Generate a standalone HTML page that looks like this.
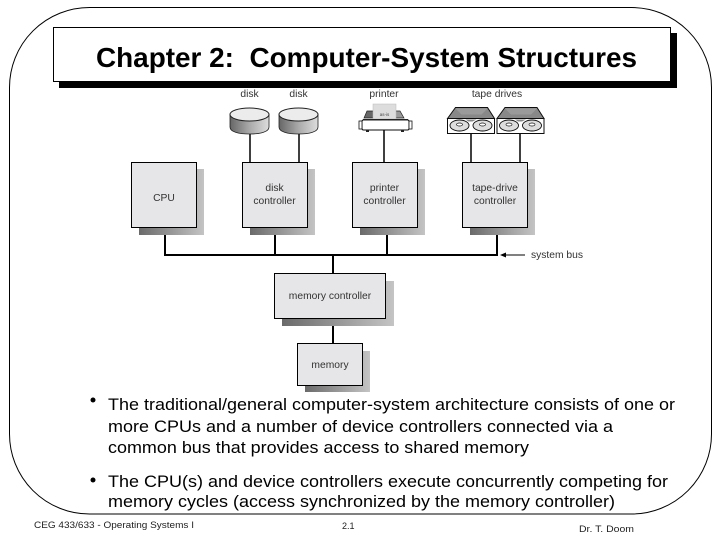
<!DOCTYPE html>
<html><head><meta charset="utf-8"><style>
html,body{margin:0;padding:0;background:#fff;width:720px;height:540px;overflow:hidden}
svg{display:block}
text{font-family:"Liberation Sans",Arial,sans-serif}
</style></head><body>
<svg width="720" height="540" viewBox="0 0 720 540" xmlns="http://www.w3.org/2000/svg">
<defs>
<filter id="b" x="-5%" y="-5%" width="110%" height="110%"><feGaussianBlur stdDeviation="0.35"/></filter>
<linearGradient id="s" x1="0" y1="0" x2="1" y2="0"><stop offset="0" stop-color="#6a6a6a"/><stop offset="1" stop-color="#c4c4c4"/></linearGradient>
<linearGradient id="d" x1="0" y1="0" x2="1" y2="0"><stop offset="0" stop-color="#666"/><stop offset=".5" stop-color="#aaa"/><stop offset="1" stop-color="#ddd"/></linearGradient>
<g id="disk"><path d="M0 6 V19 C0 24 9 26 19.500 26 C30 26 39 24 39 19 V6 Z" fill="url(#d)" stroke="#222" stroke-width=".8"/><ellipse cx="19.500" cy="6.500" rx="19.500" ry="6.500" fill="#ececec" stroke="#222" stroke-width="1"/></g>
<g id="tape"><path d="M0 11 L8 0 H40 L47 11 Z" fill="#888" stroke="#111" stroke-width="1"/><path d="M8 1 H40 L34 7 H14 Z" fill="#9a9a9a"/><rect x="0" y="11" width="47" height="15" fill="#fff" stroke="#111" stroke-width="1"/><g fill="#ddd" stroke="#111" stroke-width=".9"><ellipse cx="12" cy="18" rx="9.500" ry="5.500"/><ellipse cx="35" cy="18" rx="9.500" ry="5.500"/></g><g fill="#fff" stroke="#111" stroke-width=".7"><ellipse cx="12" cy="17" rx="3" ry="1.500"/><ellipse cx="35" cy="17" rx="3" ry="1.500"/></g><path d="M18 12 H29 L25 14 H21 Z" fill="#888"/></g>
</defs>

<!-- frame -->
<rect x="9.500" y="7.500" width="702" height="506.500" rx="80" ry="80" fill="#fff" stroke="#000" stroke-width="1"/>

<!-- title -->
<rect x="59" y="33" width="618" height="55" fill="#000"/>
<rect x="53.500" y="27.500" width="617" height="54" fill="#fff" stroke="#000" stroke-width="1"/>
<text x="96" y="67" font-size="28" font-weight="700" textLength="541" lengthAdjust="spacingAndGlyphs" xml:space="preserve" fill="#000">Chapter 2:  Computer-System Structures</text>

<!-- connectors -->
<g filter="url(#b)">
<g stroke="#000" fill="none">
<path d="M250 134V162M299 134V162M384 130V162M471 133V162M520 133V162" stroke-width="1.500"/>
<path d="M165 227V255M275 227V255M387 227V255M497 227V255M164 255H498M333 255V273M333 318V343" stroke-width="2"/>
<path d="M503 255H525" stroke-width="1"/>
</g>
<path d="M500 255 L506 252.500 V257.500 Z" fill="#000"/>

<!-- shadows and boxes -->
<g fill="url(#s)">
<rect x="139" y="169" width="65" height="66"/>
<rect x="250" y="169" width="65" height="66"/>
<rect x="360" y="169" width="65" height="66"/>
<rect x="470" y="169" width="65" height="66"/>
<rect x="282" y="281" width="112" height="45"/>
<rect x="305" y="351" width="65" height="41"/>
</g>
<g fill="#e6e6e8" stroke="#000" stroke-width="1">
<rect x="131.500" y="162.500" width="65" height="65"/>
<rect x="242.500" y="162.500" width="65" height="65"/>
<rect x="352.500" y="162.500" width="65" height="65"/>
<rect x="462.500" y="162.500" width="65" height="65"/>
<rect x="274.500" y="273.500" width="111" height="45"/>
<rect x="297.500" y="343.500" width="65" height="42"/>
</g>

<!-- disks -->
<use href="#disk" x="230" y="108"/>
<use href="#disk" x="279" y="108"/>

<!-- printer -->
<path d="M364 118 L367 111 H377 V118 Z" fill="#666" stroke="#222" stroke-width=".7"/>
<path d="M392 111 H400 L404 118 H392 Z" fill="#999" stroke="#222" stroke-width=".7"/>
<rect x="373" y="104" width="23" height="15" fill="#ddd" stroke="#bbb" stroke-width=".5"/>
<rect x="362" y="120" width="47" height="10" rx="1.500" fill="#fff" stroke="#111" stroke-width="1"/>
<rect x="359" y="121" width="3" height="8" fill="#fff" stroke="#111" stroke-width=".8"/>
<rect x="409" y="121" width="3" height="8" fill="#fff" stroke="#111" stroke-width=".8"/>
<path d="M366 130 h3 v2 h-3 Z M401 130 h3 v2 h-3 Z" fill="#222"/>
<rect x="363" y="119" width="45" height="1.500" fill="#222"/>
<text x="384.500" y="116" font-size="4.500" text-anchor="middle" fill="#444">as-is</text>

<!-- tapes -->
<use href="#tape" x="447.500" y="107.500"/>
<use href="#tape" x="497" y="107.500"/>

<!-- diagram labels -->
<g font-size="10.300" fill="#333" text-anchor="middle">
<text x="249.500" y="97">disk</text>
<text x="298.500" y="97">disk</text>
<text x="384" y="97">printer</text>
<text x="497" y="97">tape drives</text>
<text x="164" y="201">CPU</text>
<text x="274.500" y="191">disk</text>
<text x="274.500" y="204">controller</text>
<text x="384.500" y="191">printer</text>
<text x="384.500" y="204">controller</text>
<text x="495" y="191">tape-drive</text>
<text x="495" y="204">controller</text>
<text x="330" y="299">memory controller</text>
<text x="330" y="368">memory</text>
<text x="557" y="258">system bus</text>
</g>
</g>

<!-- bullets -->
<circle cx="93" cy="400" r="2.500" fill="#000"/>
<circle cx="93" cy="480" r="2.500" fill="#000"/>
<g font-size="17" fill="#000">
<text x="108" y="410" textLength="567" lengthAdjust="spacingAndGlyphs">The traditional/general computer-system architecture consists of one or</text>
<text x="108" y="432" textLength="505" lengthAdjust="spacingAndGlyphs">more CPUs and a number of device controllers connected via a</text>
<text x="108" y="453" textLength="421" lengthAdjust="spacingAndGlyphs">common bus that provides access to shared memory</text>
<text x="108" y="487" textLength="560" lengthAdjust="spacingAndGlyphs">The CPU(s) and device controllers execute concurrently competing for</text>
<text x="108" y="507" textLength="507" lengthAdjust="spacingAndGlyphs">memory cycles (access synchronized by the memory controller)</text>
</g>

<!-- footer -->
<g font-size="9" fill="#222">
<text x="34" y="528" textLength="160" lengthAdjust="spacingAndGlyphs">CEG 433/633 - Operating Systems I</text>
<text x="342" y="529">2.1</text>
<text x="579" y="532" textLength="55" lengthAdjust="spacingAndGlyphs">Dr. T. Doom</text>
</g>
</svg>
</body></html>
